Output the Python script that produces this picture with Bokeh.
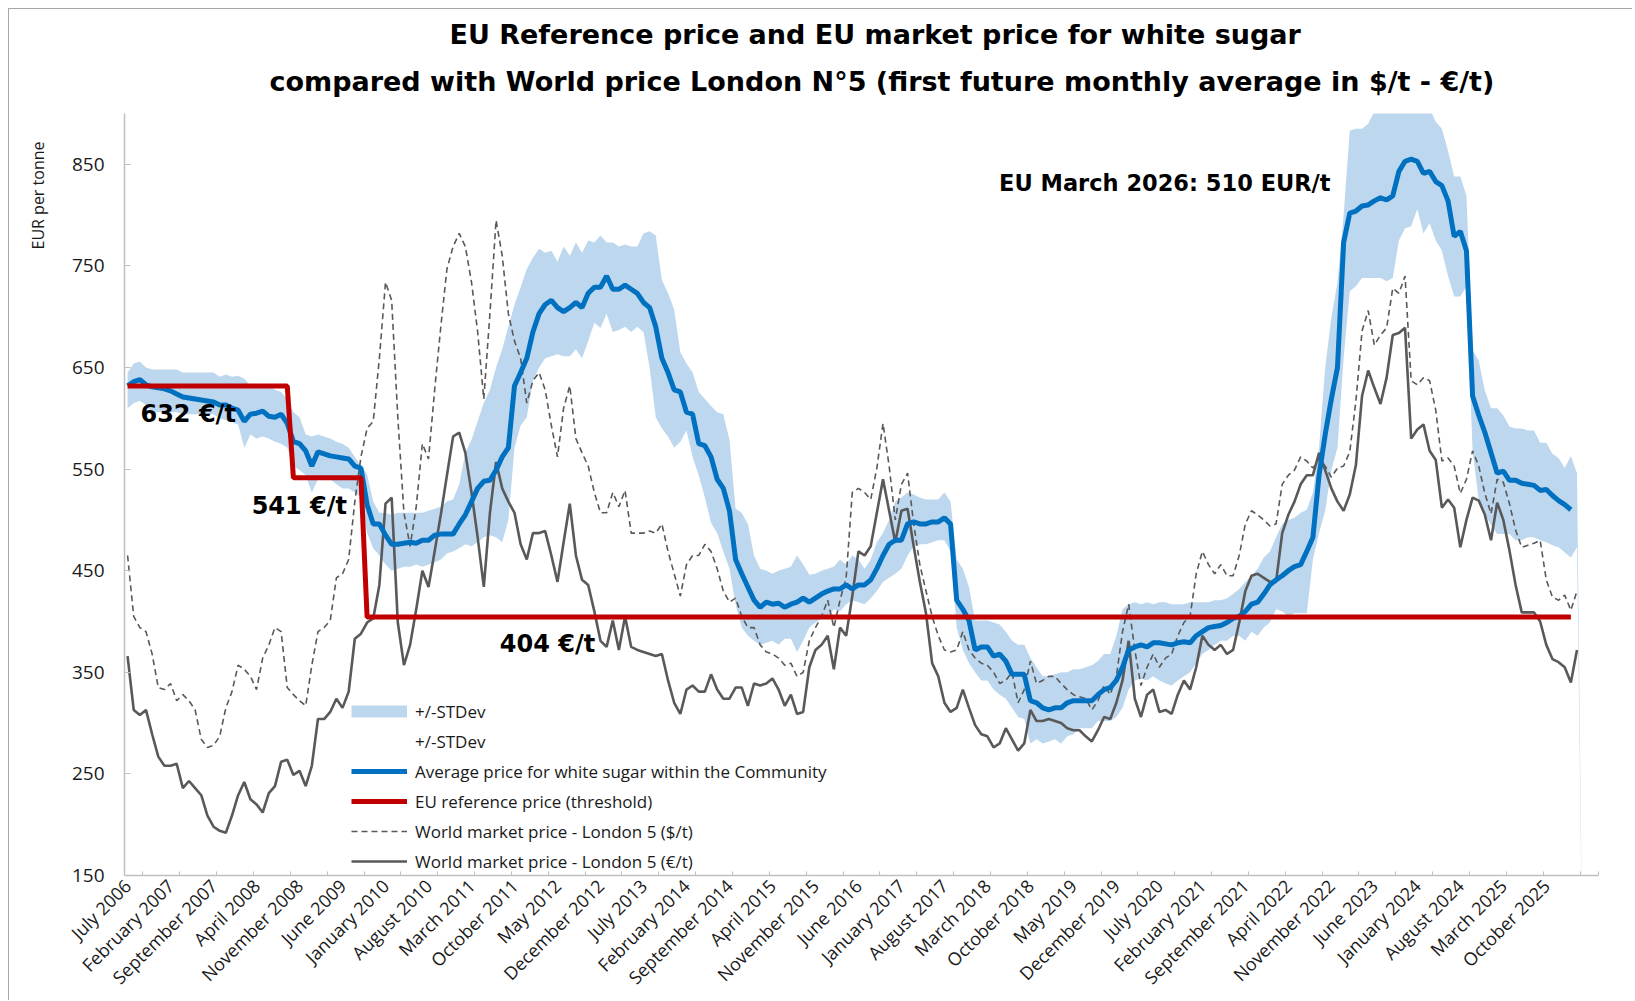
from math import pi
from bokeh.plotting import figure
from bokeh.models import Range1d, FixedTicker, Label, Legend, LegendItem, Title
from bokeh.embed import file_html
from bokeh.resources import INLINE

# ---------------- data (monthly, first month = July 2006) ----------------
title_lines = ["EU Reference price and EU market price for white sugar",
               "compared with World price London N°5 (first future monthly average in $/t - €/t)"]
tick_labels = ["July 2006", "February 2007", "September 2007", "April 2008", "November 2008",
               "June 2009", "January 2010", "August 2010", "March 2011", "October 2011",
               "May 2012", "December 2012", "July 2013", "February 2014", "September 2014",
               "April 2015", "November 2015", "June 2016", "January 2017", "August 2017",
               "March 2018", "October 2018", "May 2019", "December 2019", "July 2020",
               "February 2021", "September 2021", "April 2022", "November 2022", "June 2023",
               "January 2024", "August 2024", "March 2025", "October 2025"]
label_step = 7       # one label every 7 months
tick_step = 6        # one tick mark every 6 months
n_months = 240       # categories on the axis

eu_avg = [632, 636, 638, 633, 631, 630, 629, 627, 624, 621,
          620, 619, 618, 617, 616, 613, 613, 610, 608, 597,
          604, 605, 607, 602, 601, 604, 595, 577, 575, 568,
          553, 567, 565, 563, 562, 561, 560, 553, 551, 515,
          496, 496, 485, 476, 476, 477, 478, 477, 480, 480,
          485, 486, 486, 486, 496, 505, 518, 531, 538, 539,
          549, 562, 571, 632, 645, 659, 685, 703, 712, 716,
          709, 705, 709, 714, 709, 723, 729, 729, 740, 727,
          727, 731, 727, 723, 714, 709, 690, 659, 645, 628,
          626, 606, 604, 575, 573, 562, 540, 531, 509, 461,
          447, 434, 421, 414, 419, 417, 418, 414, 417, 419,
          423, 419, 423, 427, 430, 432, 432, 436, 432, 436,
          436, 441, 452, 465, 476, 480, 480, 496, 498, 496,
          496, 498, 498, 502, 496, 421, 412, 401, 372, 375,
          375, 366, 368, 361, 348, 348, 348, 322, 320, 315,
          313, 315, 315, 320, 322, 322, 322, 322, 328, 333,
          335, 342, 355, 372, 375, 377, 375, 379, 379, 378,
          377, 379, 380, 379, 386, 390, 394, 395, 396, 399,
          403, 405, 410, 417, 419, 427, 436, 441, 445, 450,
          454, 456, 469, 483, 544, 584, 619, 650, 773, 802,
          804, 809, 810, 814, 817, 815, 819, 843, 853, 855,
          853, 841, 843, 833, 829, 814, 779, 784, 765, 622,
          603, 586, 566, 546, 548, 539, 539, 536, 535, 534,
          529, 530, 524, 519, 515, 510]

std_upper = [645, 654, 656, 650, 648, 648, 648, 648, 648, 645,
             645, 645, 645, 645, 645, 641, 643, 641, 642, 639,
             632, 630, 634, 632, 628, 626, 619, 606, 601, 584,
             582, 584, 582, 580, 577, 575, 571, 562, 553, 545,
             518, 507, 507, 505, 507, 507, 507, 507, 507, 509,
             511, 513, 518, 520, 535, 566, 579, 597, 615, 628,
             650, 668, 690, 712, 729, 747, 758, 767, 763, 765,
             754, 769, 760, 773, 763, 775, 773, 780, 773, 773,
             769, 771, 769, 769, 782, 784, 780, 736, 723, 707,
             665, 654, 645, 626, 619, 612, 606, 604, 579, 511,
             507, 496, 465, 452, 450, 447, 450, 452, 454, 465,
             456, 446, 447, 450, 452, 454, 461, 456, 465, 461,
             452, 461, 478, 487, 500, 518, 522, 527, 525, 522,
             520, 520, 520, 527, 518, 461, 452, 434, 401, 401,
             401, 399, 397, 390, 381, 377, 377, 364, 355, 346,
             346, 348, 350, 350, 353, 353, 355, 357, 361, 368,
             368, 386, 412, 417, 419, 417, 419, 417, 419, 419,
             417, 417, 417, 419, 419, 419, 419, 421, 421, 423,
             427, 432, 439, 445, 452, 463, 469, 483, 496, 500,
             502, 507, 510, 527, 571, 650, 699, 734, 800, 883,
             885, 885, 890, 902, 905, 905, 908, 915, 920, 920,
             915, 910, 905, 892, 885, 863, 838, 838, 819, 667,
             657, 627, 610, 610, 603, 592, 590, 590, 588, 588,
             576, 576, 565, 561, 551, 563, 546, 0]

std_lower = [610, 615, 617, 613, 606, 606, 606, 606, 606, 604,
             604, 604, 604, 604, 604, 600, 598, 596, 594, 571,
             584, 580, 582, 580, 577, 575, 571, 553, 549, 544,
             527, 540, 542, 540, 535, 531, 531, 527, 522, 487,
             472, 465, 456, 450, 452, 454, 454, 456, 454, 456,
             458, 461, 467, 469, 472, 476, 474, 478, 483, 485,
             483, 478, 500, 571, 593, 601, 637, 650, 659, 661,
             663, 661, 661, 668, 659, 676, 694, 689, 703, 685,
             687, 690, 685, 690, 685, 650, 601, 590, 582, 571,
             577, 588, 562, 544, 522, 497, 487, 469, 452, 417,
             394, 386, 381, 377, 379, 381, 377, 383, 383, 370,
             381, 394, 399, 403, 405, 412, 410, 417, 421, 419,
             417, 423, 430, 439, 443, 447, 452, 465, 474, 476,
             476, 478, 480, 480, 469, 394, 372, 359, 350, 342,
             342, 333, 328, 324, 315, 306, 304, 280, 284, 280,
             282, 284, 280, 287, 289, 295, 295, 295, 302, 302,
             302, 306, 315, 333, 342, 344, 342, 346, 342, 339,
             337, 342, 346, 350, 359, 368, 372, 377, 381, 381,
             386, 386, 381, 390, 386, 394, 399, 412, 410, 405,
             408, 408, 408, 461, 487, 509, 549, 571, 659, 725,
             730, 738, 738, 738, 738, 735, 738, 775, 787, 789,
             806, 782, 792, 775, 765, 740, 720, 720, 730, 568,
             519, 505, 495, 486, 486, 486, 480, 480, 483, 483,
             480, 478, 475, 473, 468, 463, 473, 0]

world_eur = [366, 313, 308, 313, 289, 267, 258, 258, 260, 236,
             243, 236, 229, 209, 198, 194, 192, 209, 229, 242,
             225, 220, 212, 231, 238, 262, 264, 249, 253, 238,
             258, 304, 304, 311, 324, 315, 331, 383, 388, 399,
             403, 436, 516, 522, 399, 357, 377, 412, 450, 434,
             469, 505, 544, 582, 586, 566, 527, 483, 434, 507,
             557, 531, 518, 507, 476, 461, 487, 487, 489, 465,
             439, 478, 516, 465, 441, 436, 410, 381, 375, 401,
             372, 405, 375, 372, 370, 368, 366, 368, 342, 320,
             309, 333, 337, 331, 331, 348, 333, 324, 324, 335,
             335, 317, 339, 337, 339, 344, 333, 317, 328, 309,
             311, 355, 372, 377, 386, 353, 394, 386, 425, 469,
             465, 474, 507, 540, 509, 478, 509, 511, 474, 439,
             408, 359, 346, 320, 311, 315, 333, 315, 298, 289,
             287, 276, 280, 295, 284, 273, 280, 313, 302, 302,
             304, 302, 300, 295, 293, 293, 287, 282, 293, 306,
             304, 320, 342, 381, 324, 306, 328, 333, 311, 313,
             309, 328, 342, 333, 355, 386, 377, 372, 377, 368,
             372, 399, 430, 445, 447, 443, 439, 439, 487, 505,
             518, 535, 544, 544, 566, 549, 531, 518, 509, 525,
             554, 622, 647, 630, 614, 640, 682, 684, 689, 580,
             589, 594, 568, 559, 512, 520, 512, 473, 500, 522,
             519, 505, 480, 517, 500, 470, 436, 409, 409, 409,
             400, 377, 363, 360, 355, 340, 372]

world_usd = [465, 405, 394, 390, 368, 335, 333, 339, 322, 328,
             322, 313, 284, 276, 278, 287, 315, 331, 357, 353,
             346, 333, 364, 377, 394, 390, 335, 328, 322, 317,
             357, 390, 394, 401, 443, 447, 461, 518, 562, 590,
             597, 659, 734, 716, 601, 507, 474, 513, 575, 560,
             628, 690, 747, 769, 782, 769, 734, 685, 619, 703,
             795, 760, 703, 676, 659, 615, 637, 645, 628, 593,
             562, 610, 632, 580, 566, 553, 527, 507, 507, 527,
             513, 529, 487, 487, 487, 489, 487, 496, 469, 447,
             425, 456, 465, 465, 476, 469, 452, 430, 419, 423,
             405, 394, 394, 377, 370, 368, 364, 357, 359, 346,
             350, 381, 394, 405, 421, 394, 421, 443, 527, 531,
             527, 520, 551, 595, 553, 500, 535, 546, 496, 456,
             430, 405, 386, 372, 370, 372, 390, 372, 364, 359,
             357, 350, 339, 342, 350, 320, 333, 361, 339, 342,
             346, 346, 339, 333, 328, 326, 324, 313, 322, 337,
             328, 346, 390, 417, 372, 337, 355, 368, 355, 364,
             368, 386, 399, 405, 447, 469, 456, 447, 456, 445,
             445, 465, 496, 509, 505, 500, 494, 496, 535, 544,
             549, 562, 558, 551, 560, 553, 542, 551, 553, 567,
             617, 686, 706, 672, 682, 689, 728, 723, 740, 637,
             633, 640, 637, 608, 558, 561, 553, 526, 540, 568,
             553, 526, 506, 540, 537, 516, 490, 473, 475, 477,
             480, 441, 424, 421, 426, 411, 430]

ref_levels = [631.9, 541.5, 404.4]   # EU reference price (threshold)
ref_months = [27, 12, 197]           # number of months at each level
ref_labels = ["632 €/t", "541 €/t", "404 €/t"]

y_ticks = [150, 250, 350, 450, 550, 650, 750, 850]

ref_price = []
for lvl, cnt in zip(ref_levels, ref_months):
    ref_price += [lvl] * cnt

# ---------------- styling ----------------
BAND = "#BDD7EE"
BLUE = "#0070C0"
RED = "#C00000"
GREY = "#595959"
AXIS = "#BFBFBF"
TXT = "#1a1a1a"
FONT = "Open Sans"
BOLD = "DejaVu Sans"

W, H = 1632, 1000
p = figure(width=W, height=H, output_backend="svg", toolbar_location=None, title_location=None,
           x_range=Range1d(-0.5, n_months - 0.5), y_range=Range1d(150, 900),
           min_border_left=124, min_border_right=W - 1598, min_border_top=113,
           min_border_bottom=H - 876)
p.styles = {
    "background-color": "white",
    "background-image": "linear-gradient(#a6a6a6, #a6a6a6), linear-gradient(#a6a6a6, #a6a6a6)",
    "background-size": "calc(100% - 8px) 1px, 1px calc(100% - 8px)",
    "background-position": "8px 8px, 8px 8px",
    "background-repeat": "no-repeat",
}
p.border_fill_alpha = 0
p.outline_line_color = None
p.xgrid.visible = False
p.ygrid.visible = False
p.background_fill_color = "white"

band = p.varea(x=list(range(len(std_upper))), y1=std_lower, y2=std_upper, fill_color=BAND)
usd_r = p.line(list(range(len(world_usd))), world_usd, line_color=GREY, line_width=1.6, line_dash="6 4")
eur_r = p.line(list(range(len(world_eur))), world_eur, line_color=GREY, line_width=2.6)
avg_r = p.line(list(range(len(eu_avg))), eu_avg, line_color=BLUE, line_width=5)
ref_r = p.line(list(range(len(ref_price))), ref_price, line_color=RED, line_width=5)

# legend-only glyphs (no visible data)
nan = float("nan")
leg_band = p.line(x=[0], y=[nan], line_color=BAND, line_width=12)
leg_blank = p.line(x=[0], y=[nan], line_alpha=0)

legend = Legend(items=[
    LegendItem(label="+/-STDev", renderers=[leg_band]),
    LegendItem(label="+/-STDev", renderers=[leg_blank]),
    LegendItem(label="Average price for white sugar within the Community", renderers=[avg_r]),
    LegendItem(label="EU reference price (threshold)", renderers=[ref_r]),
    LegendItem(label="World market price - London 5 ($/t)", renderers=[usd_r]),
    LegendItem(label="World market price - London 5 (€/t)", renderers=[eur_r]),
], location=(227, -1), padding=0, margin=0, spacing=0,
    glyph_width=56, glyph_height=30, label_height=30, label_standoff=8,
    label_text_font=FONT, label_text_font_size="17px", label_text_color=TXT,
    background_fill_alpha=0, border_line_color=None)
p.add_layout(legend)

# axes
xa = p.xaxis[0]
label_pos = [i * label_step for i in range(len(tick_labels))]
tick_pos = [k - 0.5 for k in range(3, n_months, tick_step)] + [n_months - 0.5]
xa.ticker = FixedTicker(ticks=label_pos, minor_ticks=tick_pos)
xa.major_label_overrides = {pos: lab for pos, lab in zip(label_pos, tick_labels)}
xa.major_label_orientation = pi / 4
xa.major_tick_line_color = None
xa.minor_tick_line_color = AXIS
xa.minor_tick_in = 4
xa.minor_tick_out = 0
xa.axis_line_color = AXIS
xa.axis_line_width = 1.5
xa.major_label_text_font = FONT
xa.major_label_text_font_size = "18px"
xa.major_label_text_color = TXT
xa.major_label_standoff = 1

ya = p.yaxis[0]
ya.ticker = FixedTicker(ticks=y_ticks)
ya.major_tick_in = 6
ya.major_tick_out = 0
ya.major_tick_line_color = AXIS
ya.minor_tick_line_color = None
ya.axis_line_color = AXIS
ya.axis_line_width = 1.5
ya.major_label_text_font = FONT
ya.major_label_text_font_size = "19px"
ya.major_label_text_color = TXT
ya.major_label_standoff = 20

# titles
p.add_layout(Title(text=title_lines[1], align="left", offset=145, vertical_align="bottom",
                   standoff=34, text_font=BOLD, text_font_style="bold",
                   text_font_size="27px", text_color="black"), "above")
p.add_layout(Title(text=title_lines[0], align="left", offset=325, vertical_align="bottom",
                   standoff=-6, text_font=BOLD, text_font_style="bold",
                   text_font_size="27px", text_color="black"), "above")
p.add_layout(Title(text="EUR per tonne", align="right", offset=28, vertical_align="bottom",
                   standoff=40, text_font=FONT, text_font_style="normal",
                   text_font_size="16px", text_color=TXT), "left")

# annotations
ref_label_x = [2.1, 20.2, 60.6]
ref_label_y = [604, 513.7, 378]
for lx, ly, txt in zip(ref_label_x, ref_label_y, ref_labels):
    p.add_layout(Label(x=lx, y=ly, text=txt, text_align="left", text_baseline="middle",
                       text_font=BOLD, text_font_style="bold", text_font_size="24px",
                       text_color="black"))
p.add_layout(Label(x=141.9, y=832, text="EU March 2026:  510 EUR/t", text_align="left",
                   text_baseline="middle", text_font=BOLD, text_font_style="bold",
                   text_font_size="22.5px", text_color="black"))

open("out.html", "w").write(file_html(p, INLINE))
